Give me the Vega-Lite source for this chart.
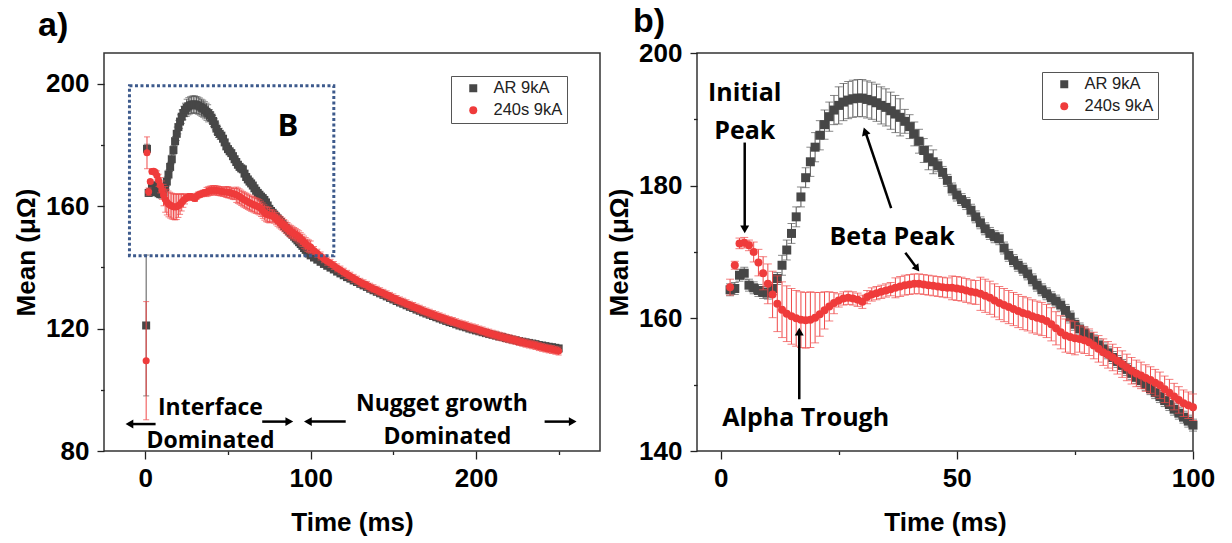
{
"$schema": "https://vega.github.io/schema/vega-lite/v6.json",
"background": "white",
"padding": {"left": 12, "top": 3, "right": 5, "bottom": 5},
"spacing": 4,
"resolve": {"scale": {"color": "independent", "shape": "independent"}},
"config": {
 "font": "Liberation Sans",
 "view": {"stroke": "#333", "strokeWidth": 1.5},
 "axis": {"grid": false, "domain": false, "labelFont": "Liberation Sans", "labelFontSize": 26, "labelFontWeight": "bold", "labelColor": "#000", "titleFont": "Liberation Sans", "titleFontSize": 26, "titleFontWeight": "bold", "titleColor": "#000", "tickColor": "#222", "tickWidth": 1.3, "labelFlush": false, "labelOverlap": false},
 "axisY": {"labelPadding": 8, "titlePadding": 6},
 "axisX": {"labelPadding": 6, "titlePadding": 18},
 "title": {"font": "Liberation Sans", "fontSize": 34, "fontWeight": "bold", "anchor": "start", "color": "#000", "frame": "group"},
 "legend": {"orient": "none", "strokeColor": "#555", "fillColor": "white", "padding": 4, "symbolOffset": 10, "labelOffset": 12, "labelFontSize": 16.5, "labelFont": "Liberation Sans", "labelColor": "#222", "symbolSize": 64, "rowPadding": 5, "cornerRadius": 0}
},
"datasets": {"d": [
{"s":"AR 9kA","t":0.5,"m":121,"e":23},{"s":"AR 9kA","t":1,"m":178.7,"e":1.5},
{"s":"AR 9kA","t":2,"m":164.3,"e":0.9},{"s":"AR 9kA","t":3,"m":164.5,"e":0.9},{"s":"AR 9kA","t":4,"m":166.5,"e":0.9},{"s":"AR 9kA","t":5,"m":166.8,"e":0.9},{"s":"AR 9kA","t":6,"m":165.0,"e":0.9},{"s":"AR 9kA","t":7,"m":164.6,"e":0.9},{"s":"AR 9kA","t":8,"m":164.2,"e":0.9},{"s":"AR 9kA","t":9,"m":163.9,"e":0.9},{"s":"AR 9kA","t":10,"m":163.8,"e":0.9},{"s":"AR 9kA","t":11,"m":164.5,"e":0.9},{"s":"AR 9kA","t":12,"m":166.0,"e":0.9},
{"s":"AR 9kA","t":13,"m":168.0,"e":1.5},{"s":"AR 9kA","t":14,"m":170.3,"e":1.5},{"s":"AR 9kA","t":15,"m":172.8,"e":1.5},{"s":"AR 9kA","t":16,"m":175.3,"e":1.5},{"s":"AR 9kA","t":17,"m":178.3,"e":1.5},{"s":"AR 9kA","t":18,"m":181.2,"e":1.5},
{"s":"AR 9kA","t":19,"m":183.6,"e":2.2},{"s":"AR 9kA","t":20,"m":185.8,"e":2.2},{"s":"AR 9kA","t":21,"m":187.6,"e":2.2},{"s":"AR 9kA","t":22,"m":189.2,"e":2.2},{"s":"AR 9kA","t":23,"m":190.4,"e":2.2},{"s":"AR 9kA","t":24,"m":191.4,"e":2.2},
{"s":"AR 9kA","t":25,"m":192.1,"e":2.8},{"s":"AR 9kA","t":26,"m":192.6,"e":2.8},{"s":"AR 9kA","t":27,"m":192.9,"e":2.8},{"s":"AR 9kA","t":28,"m":193.1,"e":2.8},{"s":"AR 9kA","t":29,"m":193.2,"e":2.8},{"s":"AR 9kA","t":30,"m":193.2,"e":2.8},{"s":"AR 9kA","t":31,"m":193.0,"e":2.8},{"s":"AR 9kA","t":32,"m":192.8,"e":2.8},{"s":"AR 9kA","t":33,"m":192.5,"e":2.8},{"s":"AR 9kA","t":34,"m":192.1,"e":2.8},{"s":"AR 9kA","t":35,"m":191.8,"e":2.8},{"s":"AR 9kA","t":36,"m":191.3,"e":2.8},{"s":"AR 9kA","t":37,"m":190.8,"e":2.8},{"s":"AR 9kA","t":38,"m":190.3,"e":2.8},
{"s":"AR 9kA","t":39,"m":189.7,"e":1.8},{"s":"AR 9kA","t":40,"m":188.9,"e":1.8},{"s":"AR 9kA","t":41,"m":187.8,"e":1.8},{"s":"AR 9kA","t":42,"m":186.7,"e":1.8},{"s":"AR 9kA","t":43,"m":185.3,"e":1.8},{"s":"AR 9kA","t":44,"m":184.2,"e":1.8},{"s":"AR 9kA","t":45,"m":183.6,"e":1.8},
{"s":"AR 9kA","t":46,"m":183.0,"e":0.9},{"s":"AR 9kA","t":47,"m":182.0,"e":0.9},{"s":"AR 9kA","t":48,"m":180.8,"e":0.9},{"s":"AR 9kA","t":49,"m":179.5,"e":0.9},{"s":"AR 9kA","t":50,"m":178.6,"e":0.9},{"s":"AR 9kA","t":51,"m":177.9,"e":0.9},{"s":"AR 9kA","t":52,"m":177.3,"e":0.9},{"s":"AR 9kA","t":53,"m":176.3,"e":0.9},{"s":"AR 9kA","t":54,"m":175.3,"e":0.9},{"s":"AR 9kA","t":55,"m":174.4,"e":0.9},{"s":"AR 9kA","t":56,"m":173.5,"e":0.9},{"s":"AR 9kA","t":57,"m":172.8,"e":0.9},{"s":"AR 9kA","t":58,"m":172.3,"e":0.9},{"s":"AR 9kA","t":59,"m":172.0,"e":0.9},{"s":"AR 9kA","t":60,"m":170.6,"e":0.9},
{"s":"AR 9kA","t":61,"m":169.5,"e":0.9},{"s":"AR 9kA","t":62,"m":168.7,"e":0.9},{"s":"AR 9kA","t":63,"m":168.0,"e":0.9},{"s":"AR 9kA","t":64,"m":167.4,"e":0.9},{"s":"AR 9kA","t":65,"m":166.7,"e":0.9},{"s":"AR 9kA","t":66,"m":165.8,"e":0.9},{"s":"AR 9kA","t":67,"m":165.0,"e":0.9},{"s":"AR 9kA","t":68,"m":164.3,"e":0.9},{"s":"AR 9kA","t":69,"m":163.7,"e":0.9},{"s":"AR 9kA","t":70,"m":163.1,"e":0.9},
{"s":"AR 9kA","t":71,"m":162.6,"e":0.9},{"s":"AR 9kA","t":72,"m":162.0,"e":0.9},{"s":"AR 9kA","t":73,"m":161.2,"e":0.9},{"s":"AR 9kA","t":74,"m":160.2,"e":0.9},{"s":"AR 9kA","t":75,"m":159.1,"e":0.9},{"s":"AR 9kA","t":76,"m":158.4,"e":0.9},{"s":"AR 9kA","t":77,"m":157.8,"e":0.9},{"s":"AR 9kA","t":78,"m":157.2,"e":0.9},{"s":"AR 9kA","t":79,"m":156.6,"e":0.9},{"s":"AR 9kA","t":80,"m":156.0,"e":0.9},
{"s":"AR 9kA","t":81,"m":155.4,"e":0.9},{"s":"AR 9kA","t":82,"m":154.8,"e":0.9},{"s":"AR 9kA","t":83,"m":154.1,"e":0.9},{"s":"AR 9kA","t":84,"m":153.5,"e":0.9},{"s":"AR 9kA","t":85,"m":152.9,"e":0.9},{"s":"AR 9kA","t":86,"m":152.3,"e":0.9},{"s":"AR 9kA","t":87,"m":151.7,"e":0.9},{"s":"AR 9kA","t":88,"m":151.1,"e":0.9},{"s":"AR 9kA","t":89,"m":150.6,"e":0.9},{"s":"AR 9kA","t":90,"m":150.0,"e":0.9},
{"s":"AR 9kA","t":91,"m":149.4,"e":0.9},{"s":"AR 9kA","t":92,"m":148.8,"e":0.9},{"s":"AR 9kA","t":93,"m":148.2,"e":0.9},{"s":"AR 9kA","t":94,"m":147.6,"e":0.9},{"s":"AR 9kA","t":95,"m":147.0,"e":0.9},{"s":"AR 9kA","t":96,"m":146.3,"e":0.9},{"s":"AR 9kA","t":97,"m":145.7,"e":0.9},{"s":"AR 9kA","t":98,"m":145.1,"e":0.9},{"s":"AR 9kA","t":99,"m":144.5,"e":0.9},{"s":"AR 9kA","t":100,"m":143.9,"e":0.9},
{"s":"AR 9kA","t":102,"m":143.2,"e":0.8},{"s":"AR 9kA","t":104,"m":142.5,"e":0.8},{"s":"AR 9kA","t":106,"m":141.8,"e":0.8},{"s":"AR 9kA","t":108,"m":141.1,"e":0.8},{"s":"AR 9kA","t":110,"m":140.5,"e":0.8},{"s":"AR 9kA","t":112,"m":139.9,"e":0.8},{"s":"AR 9kA","t":114,"m":139.3,"e":0.8},{"s":"AR 9kA","t":116,"m":138.6,"e":0.8},{"s":"AR 9kA","t":118,"m":138.0,"e":0.8},{"s":"AR 9kA","t":120,"m":137.4,"e":0.8},
{"s":"AR 9kA","t":122,"m":136.8,"e":0.8},{"s":"AR 9kA","t":124,"m":136.3,"e":0.8},{"s":"AR 9kA","t":126,"m":135.7,"e":0.8},{"s":"AR 9kA","t":128,"m":135.2,"e":0.8},{"s":"AR 9kA","t":130,"m":134.6,"e":0.8},{"s":"AR 9kA","t":132,"m":134.1,"e":0.8},{"s":"AR 9kA","t":134,"m":133.6,"e":0.8},{"s":"AR 9kA","t":136,"m":133.0,"e":0.8},{"s":"AR 9kA","t":138,"m":132.5,"e":0.8},{"s":"AR 9kA","t":140,"m":132.0,"e":0.8},
{"s":"AR 9kA","t":142,"m":131.5,"e":0.8},{"s":"AR 9kA","t":144,"m":131.0,"e":0.8},{"s":"AR 9kA","t":146,"m":130.5,"e":0.8},{"s":"AR 9kA","t":148,"m":130.0,"e":0.8},{"s":"AR 9kA","t":150,"m":129.5,"e":0.8},{"s":"AR 9kA","t":152,"m":129.0,"e":0.8},{"s":"AR 9kA","t":154,"m":128.5,"e":0.8},{"s":"AR 9kA","t":156,"m":128.1,"e":0.8},{"s":"AR 9kA","t":158,"m":127.6,"e":0.8},{"s":"AR 9kA","t":160,"m":127.1,"e":0.8},
{"s":"AR 9kA","t":162,"m":126.7,"e":0.8},{"s":"AR 9kA","t":164,"m":126.2,"e":0.8},{"s":"AR 9kA","t":166,"m":125.8,"e":0.8},{"s":"AR 9kA","t":168,"m":125.3,"e":0.8},{"s":"AR 9kA","t":170,"m":124.9,"e":0.8},{"s":"AR 9kA","t":172,"m":124.5,"e":0.8},{"s":"AR 9kA","t":174,"m":124.1,"e":0.8},{"s":"AR 9kA","t":176,"m":123.7,"e":0.8},{"s":"AR 9kA","t":178,"m":123.3,"e":0.8},{"s":"AR 9kA","t":180,"m":122.9,"e":0.8},
{"s":"AR 9kA","t":182,"m":122.5,"e":0.8},{"s":"AR 9kA","t":184,"m":122.1,"e":0.8},{"s":"AR 9kA","t":186,"m":121.8,"e":0.8},{"s":"AR 9kA","t":188,"m":121.4,"e":0.8},{"s":"AR 9kA","t":190,"m":121.0,"e":0.8},{"s":"AR 9kA","t":192,"m":120.7,"e":0.8},{"s":"AR 9kA","t":194,"m":120.4,"e":0.8},{"s":"AR 9kA","t":196,"m":120.0,"e":0.8},{"s":"AR 9kA","t":198,"m":119.7,"e":0.8},{"s":"AR 9kA","t":200,"m":119.4,"e":0.8},
{"s":"AR 9kA","t":202,"m":119.1,"e":0.8},{"s":"AR 9kA","t":204,"m":118.8,"e":0.8},{"s":"AR 9kA","t":206,"m":118.5,"e":0.8},{"s":"AR 9kA","t":208,"m":118.2,"e":0.8},{"s":"AR 9kA","t":210,"m":117.95,"e":0.8},{"s":"AR 9kA","t":212,"m":117.7,"e":0.8},{"s":"AR 9kA","t":214,"m":117.4,"e":0.8},{"s":"AR 9kA","t":216,"m":117.2,"e":0.8},{"s":"AR 9kA","t":218,"m":116.9,"e":0.8},{"s":"AR 9kA","t":220,"m":116.65,"e":0.8},
{"s":"AR 9kA","t":222,"m":116.4,"e":0.8},{"s":"AR 9kA","t":224,"m":116.2,"e":0.8},{"s":"AR 9kA","t":226,"m":115.9,"e":0.8},{"s":"AR 9kA","t":228,"m":115.7,"e":0.8},{"s":"AR 9kA","t":230,"m":115.5,"e":0.8},{"s":"AR 9kA","t":232,"m":115.3,"e":0.8},{"s":"AR 9kA","t":234,"m":115.1,"e":0.8},{"s":"AR 9kA","t":236,"m":114.9,"e":0.8},{"s":"AR 9kA","t":238,"m":114.6,"e":0.8},{"s":"AR 9kA","t":240,"m":114.45,"e":0.8},
{"s":"AR 9kA","t":242,"m":114.25,"e":0.8},{"s":"AR 9kA","t":244,"m":114.05,"e":0.8},{"s":"AR 9kA","t":246,"m":113.9,"e":0.8},{"s":"AR 9kA","t":248,"m":113.7,"e":0.8},{"s":"AR 9kA","t":250,"m":113.5,"e":0.8},
{"s":"240s 9kA","t":0.5,"m":109.5,"e":19.3},{"s":"240s 9kA","t":1,"m":177.4,"e":5.2},
{"s":"240s 9kA","t":2,"m":164.7,"e":1.2},{"s":"240s 9kA","t":3,"m":168.0,"e":0.6},{"s":"240s 9kA","t":4,"m":171.3,"e":0.8},{"s":"240s 9kA","t":5,"m":171.4,"e":0.8},{"s":"240s 9kA","t":6,"m":171.0,"e":0.8},{"s":"240s 9kA","t":7,"m":170.0,"e":1.5},{"s":"240s 9kA","t":8,"m":168.4,"e":2},{"s":"240s 9kA","t":9,"m":166.8,"e":2.5},{"s":"240s 9kA","t":10,"m":165.2,"e":3},
{"s":"240s 9kA","t":11,"m":163.6,"e":3.5},{"s":"240s 9kA","t":12,"m":162.2,"e":4.2},{"s":"240s 9kA","t":13,"m":161.3,"e":4.2},{"s":"240s 9kA","t":14,"m":160.7,"e":4.2},{"s":"240s 9kA","t":15,"m":160.3,"e":4.2},{"s":"240s 9kA","t":16,"m":160.0,"e":4.2},{"s":"240s 9kA","t":17,"m":159.8,"e":4.2},{"s":"240s 9kA","t":18,"m":159.7,"e":4.2},{"s":"240s 9kA","t":19,"m":159.8,"e":4.2},{"s":"240s 9kA","t":20,"m":160.1,"e":3.8},
{"s":"240s 9kA","t":21,"m":160.6,"e":3.3},{"s":"240s 9kA","t":22,"m":161.2,"e":2.8},{"s":"240s 9kA","t":23,"m":161.8,"e":2.2},{"s":"240s 9kA","t":24,"m":162.3,"e":1.6},{"s":"240s 9kA","t":25,"m":162.7,"e":1.0},{"s":"240s 9kA","t":26,"m":163.0,"e":1.0},{"s":"240s 9kA","t":27,"m":163.1,"e":1.0},{"s":"240s 9kA","t":28,"m":163.0,"e":1.0},{"s":"240s 9kA","t":29,"m":162.8,"e":1.0},{"s":"240s 9kA","t":30,"m":162.5,"e":1.0},
{"s":"240s 9kA","t":31,"m":163.2,"e":1.0},{"s":"240s 9kA","t":32,"m":163.6,"e":1.0},{"s":"240s 9kA","t":33,"m":163.8,"e":1.0},{"s":"240s 9kA","t":34,"m":164.0,"e":1.0},{"s":"240s 9kA","t":35,"m":164.2,"e":1.0},{"s":"240s 9kA","t":36,"m":164.4,"e":1.0},{"s":"240s 9kA","t":37,"m":164.6,"e":1.5},{"s":"240s 9kA","t":38,"m":164.8,"e":1.5},{"s":"240s 9kA","t":39,"m":165.0,"e":1.5},{"s":"240s 9kA","t":40,"m":165.1,"e":1.5},
{"s":"240s 9kA","t":41,"m":165.2,"e":1.5},{"s":"240s 9kA","t":42,"m":165.2,"e":1.5},{"s":"240s 9kA","t":43,"m":165.1,"e":1.5},{"s":"240s 9kA","t":44,"m":165.0,"e":1.5},{"s":"240s 9kA","t":45,"m":164.9,"e":1.5},{"s":"240s 9kA","t":46,"m":164.8,"e":1.5},{"s":"240s 9kA","t":47,"m":164.7,"e":1.5},{"s":"240s 9kA","t":48,"m":164.6,"e":1.5},{"s":"240s 9kA","t":49,"m":164.6,"e":1.8},{"s":"240s 9kA","t":50,"m":164.5,"e":1.8},
{"s":"240s 9kA","t":51,"m":164.4,"e":1.8},{"s":"240s 9kA","t":52,"m":164.2,"e":1.8},{"s":"240s 9kA","t":53,"m":164.0,"e":1.8},{"s":"240s 9kA","t":54,"m":163.9,"e":1.8},{"s":"240s 9kA","t":55,"m":163.7,"e":2.5},{"s":"240s 9kA","t":56,"m":163.4,"e":2.5},{"s":"240s 9kA","t":57,"m":163.1,"e":2.5},{"s":"240s 9kA","t":58,"m":162.7,"e":2.5},{"s":"240s 9kA","t":59,"m":162.3,"e":2.5},{"s":"240s 9kA","t":60,"m":162.0,"e":2.5},
{"s":"240s 9kA","t":61,"m":161.7,"e":2.5},{"s":"240s 9kA","t":62,"m":161.4,"e":2.5},{"s":"240s 9kA","t":63,"m":161.1,"e":2.5},{"s":"240s 9kA","t":64,"m":160.8,"e":2.5},{"s":"240s 9kA","t":65,"m":160.6,"e":2.5},{"s":"240s 9kA","t":66,"m":160.3,"e":2.5},{"s":"240s 9kA","t":67,"m":160.1,"e":2.5},{"s":"240s 9kA","t":68,"m":159.9,"e":2.5},{"s":"240s 9kA","t":69,"m":159.6,"e":2.5},{"s":"240s 9kA","t":70,"m":159.1,"e":2.5},
{"s":"240s 9kA","t":71,"m":158.5,"e":2.5},{"s":"240s 9kA","t":72,"m":157.9,"e":2.5},{"s":"240s 9kA","t":73,"m":157.4,"e":2.5},{"s":"240s 9kA","t":74,"m":157.2,"e":2.5},{"s":"240s 9kA","t":75,"m":157.0,"e":2.5},{"s":"240s 9kA","t":76,"m":156.9,"e":2.0},{"s":"240s 9kA","t":77,"m":156.7,"e":2.0},{"s":"240s 9kA","t":78,"m":156.4,"e":2.0},{"s":"240s 9kA","t":79,"m":155.9,"e":2.0},{"s":"240s 9kA","t":80,"m":155.4,"e":2.0},
{"s":"240s 9kA","t":81,"m":154.9,"e":2.0},{"s":"240s 9kA","t":82,"m":154.5,"e":2.0},{"s":"240s 9kA","t":83,"m":154.1,"e":2.0},{"s":"240s 9kA","t":84,"m":153.6,"e":2.0},{"s":"240s 9kA","t":85,"m":153.1,"e":2.0},{"s":"240s 9kA","t":86,"m":152.6,"e":2.0},{"s":"240s 9kA","t":87,"m":152.1,"e":2.0},{"s":"240s 9kA","t":88,"m":151.7,"e":2.0},{"s":"240s 9kA","t":89,"m":151.4,"e":2.0},{"s":"240s 9kA","t":90,"m":151.0,"e":2.0},
{"s":"240s 9kA","t":91,"m":150.7,"e":2.0},{"s":"240s 9kA","t":92,"m":150.3,"e":2.0},{"s":"240s 9kA","t":93,"m":149.9,"e":2.0},{"s":"240s 9kA","t":94,"m":149.3,"e":2.0},{"s":"240s 9kA","t":95,"m":148.8,"e":2.0},{"s":"240s 9kA","t":96,"m":148.2,"e":2.0},{"s":"240s 9kA","t":97,"m":147.7,"e":2.0},{"s":"240s 9kA","t":98,"m":147.2,"e":2.0},{"s":"240s 9kA","t":99,"m":146.9,"e":2.0},{"s":"240s 9kA","t":100,"m":146.6,"e":2.0},
{"s":"240s 9kA","t":102,"m":145.5,"e":1.3},{"s":"240s 9kA","t":104,"m":144.6,"e":1.3},{"s":"240s 9kA","t":106,"m":143.7,"e":1.3},{"s":"240s 9kA","t":108,"m":142.8,"e":1.3},{"s":"240s 9kA","t":110,"m":142.0,"e":1.3},{"s":"240s 9kA","t":112,"m":141.3,"e":1.3},{"s":"240s 9kA","t":114,"m":140.6,"e":1.3},{"s":"240s 9kA","t":116,"m":139.8,"e":1.3},{"s":"240s 9kA","t":118,"m":139.1,"e":1.3},{"s":"240s 9kA","t":120,"m":138.4,"e":1.3},
{"s":"240s 9kA","t":122,"m":137.7,"e":1.3},{"s":"240s 9kA","t":124,"m":137.1,"e":1.3},{"s":"240s 9kA","t":126,"m":136.4,"e":1.3},{"s":"240s 9kA","t":128,"m":135.8,"e":1.3},{"s":"240s 9kA","t":130,"m":135.1,"e":1.3},{"s":"240s 9kA","t":132,"m":134.6,"e":1.3},{"s":"240s 9kA","t":134,"m":134.1,"e":1.3},{"s":"240s 9kA","t":136,"m":133.5,"e":1.3},{"s":"240s 9kA","t":138,"m":133.0,"e":1.3},{"s":"240s 9kA","t":140,"m":132.5,"e":1.3},
{"s":"240s 9kA","t":142,"m":132.0,"e":1.3},{"s":"240s 9kA","t":144,"m":131.5,"e":1.3},{"s":"240s 9kA","t":146,"m":131.0,"e":1.3},{"s":"240s 9kA","t":148,"m":130.5,"e":1.3},{"s":"240s 9kA","t":150,"m":130.0,"e":1.3},{"s":"240s 9kA","t":152,"m":129.5,"e":1.3},{"s":"240s 9kA","t":154,"m":129.0,"e":1.3},{"s":"240s 9kA","t":156,"m":128.6,"e":1.3},{"s":"240s 9kA","t":158,"m":128.1,"e":1.3},{"s":"240s 9kA","t":160,"m":127.6,"e":1.3},
{"s":"240s 9kA","t":162,"m":127.2,"e":1.3},{"s":"240s 9kA","t":164,"m":126.7,"e":1.3},{"s":"240s 9kA","t":166,"m":126.3,"e":1.3},{"s":"240s 9kA","t":168,"m":125.8,"e":1.3},{"s":"240s 9kA","t":170,"m":125.4,"e":1.3},{"s":"240s 9kA","t":172,"m":125.0,"e":1.3},{"s":"240s 9kA","t":174,"m":124.6,"e":1.3},{"s":"240s 9kA","t":176,"m":124.2,"e":1.3},{"s":"240s 9kA","t":178,"m":123.8,"e":1.3},{"s":"240s 9kA","t":180,"m":123.4,"e":1.3},
{"s":"240s 9kA","t":182,"m":123.0,"e":1.3},{"s":"240s 9kA","t":184,"m":122.6,"e":1.3},{"s":"240s 9kA","t":186,"m":122.3,"e":1.3},{"s":"240s 9kA","t":188,"m":121.9,"e":1.3},{"s":"240s 9kA","t":190,"m":121.5,"e":1.3},{"s":"240s 9kA","t":192,"m":121.2,"e":1.3},{"s":"240s 9kA","t":194,"m":120.9,"e":1.3},{"s":"240s 9kA","t":196,"m":120.5,"e":1.3},{"s":"240s 9kA","t":198,"m":120.2,"e":1.3},{"s":"240s 9kA","t":200,"m":119.9,"e":1.3},
{"s":"240s 9kA","t":202,"m":119.5,"e":1.3},{"s":"240s 9kA","t":204,"m":119.2,"e":1.3},{"s":"240s 9kA","t":206,"m":118.8,"e":1.3},{"s":"240s 9kA","t":208,"m":118.5,"e":1.3},{"s":"240s 9kA","t":210,"m":118.15,"e":1.3},{"s":"240s 9kA","t":212,"m":117.85,"e":1.3},{"s":"240s 9kA","t":214,"m":117.5,"e":1.3},{"s":"240s 9kA","t":216,"m":117.25,"e":1.3},{"s":"240s 9kA","t":218,"m":116.9,"e":1.3},{"s":"240s 9kA","t":220,"m":116.65,"e":1.3},
{"s":"240s 9kA","t":222,"m":116.35,"e":1.3},{"s":"240s 9kA","t":224,"m":116.1,"e":1.3},{"s":"240s 9kA","t":226,"m":115.75,"e":1.3},{"s":"240s 9kA","t":228,"m":115.5,"e":1.3},{"s":"240s 9kA","t":230,"m":115.2,"e":1.3},{"s":"240s 9kA","t":232,"m":114.95,"e":1.3},{"s":"240s 9kA","t":234,"m":114.7,"e":1.3},{"s":"240s 9kA","t":236,"m":114.45,"e":1.3},{"s":"240s 9kA","t":238,"m":114.1,"e":1.3},{"s":"240s 9kA","t":240,"m":113.85,"e":1.3},
{"s":"240s 9kA","t":242,"m":113.6,"e":1.3},{"s":"240s 9kA","t":244,"m":113.35,"e":1.3},{"s":"240s 9kA","t":246,"m":113.15,"e":1.3},{"s":"240s 9kA","t":248,"m":112.9,"e":1.3},{"s":"240s 9kA","t":250,"m":112.65,"e":1.3}
]},
"hconcat": [
{
 "width": 496, "height": 398,
 "title": {"text": "a)", "dx": -66, "offset": -16.5, "baseline": "alphabetic"},
 "data": {"name": "d"},
 "encoding": {
  "x": {"field": "t", "type": "quantitative", "scale": {"domain": [-25, 275], "nice": false, "zero": false}, "axis": {"title": "Time (ms)", "values": [0, 50, 100, 150, 200, 250], "labelExpr": "datum.value % 100 === 0 ? datum.label : ''", "tickSize": {"condition": {"test": "datum.value % 100 === 0", "value": 8}, "value": 3.5}}},
  "y": {"field": "m", "type": "quantitative", "scale": {"domain": [80, 210], "nice": false, "zero": false}, "axis": {"title": "Mean (μΩ)", "values": [80, 100, 120, 140, 160, 180, 200], "labelExpr": "datum.value % 40 === 0 ? datum.label : ''", "tickSize": {"condition": {"test": "datum.value % 40 === 0", "value": 7}, "value": 3.5}}}
 },
 "layer": [
  {"transform": [{"filter": "datum.s === 'AR 9kA'"}], "mark": {"type": "errorbar", "ticks": true, "size": 6, "thickness": 1, "color": "#555555"}, "encoding": {"yError": {"field": "e"}}},
  {"transform": [{"filter": "datum.s === 'AR 9kA'"}], "mark": {"type": "point", "filled": true, "opacity": 1, "size": 64},
   "encoding": {
    "color": {"field": "s", "type": "nominal", "scale": {"domain": ["AR 9kA", "240s 9kA"], "range": ["#474747", "#ef3b3b"]}, "legend": {"title": null, "legendX": 347, "legendY": 23}},
    "shape": {"field": "s", "type": "nominal", "scale": {"domain": ["AR 9kA", "240s 9kA"], "range": ["square", "circle"]}, "legend": {"title": null, "legendX": 347, "legendY": 23}}}},
  {"transform": [{"filter": "datum.s === '240s 9kA'"}], "mark": {"type": "errorbar", "ticks": true, "size": 6, "thickness": 1, "color": "#f04848"}, "encoding": {"yError": {"field": "e"}}},
  {"transform": [{"filter": "datum.s === '240s 9kA'"}], "mark": {"type": "point", "filled": true, "opacity": 1, "size": 50},
   "encoding": {
    "color": {"field": "s", "type": "nominal", "scale": {"domain": ["AR 9kA", "240s 9kA"], "range": ["#474747", "#ef3b3b"]}, "legend": {"title": null, "legendX": 347, "legendY": 23}},
    "shape": {"field": "s", "type": "nominal", "scale": {"domain": ["AR 9kA", "240s 9kA"], "range": ["square", "circle"]}, "legend": {"title": null, "legendX": 347, "legendY": 23}}}},
  {"data": {"values": [{"t": -9.6, "t2": 114, "m": 143.8, "m2": 199.3}]}, "mark": {"type": "rect", "fillOpacity": 0, "stroke": "#3d5a8c", "strokeWidth": 3, "strokeDash": [3, 2.5]}, "encoding": {"x2": {"field": "t2"}, "y2": {"field": "m2"}}},
  {"data": {"values": [{"t": 86.2, "m": 185.8, "label": "B"}]}, "mark": {"type": "text", "font": "Open Sans", "fontWeight": "bold", "fontSize": 31, "color": "#000"}, "encoding": {"text": {"field": "label"}}},
  {"data": {"values": [{"t": 39.4, "m": 94.2, "label": "Interface"}, {"t": 39.4, "m": 83.4, "label": "Dominated"}, {"t": 179.4, "m": 95.3, "label": "Nugget growth"}, {"t": 182.7, "m": 84.5, "label": "Dominated"}]}, "mark": {"type": "text", "font": "Open Sans", "fontWeight": "bold", "fontSize": 23, "color": "#000"}, "encoding": {"text": {"field": "label"}}},
  {"data": {"values": [{"t": -9.6, "t2": 6.2, "m": 88.8, "m2": 88.8}, {"t": 70.7, "t2": 87, "m": 89.6, "m2": 89.6}, {"t": 98.4, "t2": 121.2, "m": 89.6, "m2": 89.6}, {"t": 241.5, "t2": 258.5, "m": 89.6, "m2": 89.6}]}, "mark": {"type": "rule", "strokeWidth": 2.5, "color": "#000"}, "encoding": {"x2": {"field": "t2"}, "y2": {"field": "m2"}}},
  {"data": {"values": [{"t": -9.6, "m": 88.8}, {"t": 98.3, "m": 89.6}]}, "mark": {"type": "point", "shape": "triangle-left", "filled": true, "opacity": 1, "color": "#000", "size": 80}},
  {"data": {"values": [{"t": 87.1, "m": 89.6}, {"t": 258.5, "m": 89.6}]}, "mark": {"type": "point", "shape": "triangle-right", "filled": true, "opacity": 1, "color": "#000", "size": 80}}
 ]
},
{
 "width": 496, "height": 398,
 "title": {"text": "b)", "dx": -64, "offset": -25.5, "baseline": "alphabetic"},
 "data": {"name": "d"},
 "encoding": {
  "x": {"field": "t", "type": "quantitative", "scale": {"domain": [-5, 100], "nice": false, "zero": false}, "axis": {"title": "Time (ms)", "values": [0, 25, 50, 75, 100], "labelExpr": "datum.value % 50 === 0 ? datum.label : ''", "tickSize": {"condition": {"test": "datum.value % 50 === 0", "value": 8}, "value": 3.5}}},
  "y": {"field": "m", "type": "quantitative", "scale": {"domain": [140, 200], "nice": false, "zero": false}, "axis": {"title": "Mean (μΩ)", "values": [140, 150, 160, 170, 180, 190, 200], "labelExpr": "datum.value % 20 === 0 ? datum.label : ''", "tickSize": {"condition": {"test": "datum.value % 20 === 0", "value": 7}, "value": 3.5}}}
 },
 "layer": [
  {"transform": [{"filter": "datum.s === 'AR 9kA' && datum.t >= 2 && datum.t <= 100"}], "mark": {"type": "errorbar", "ticks": true, "size": 8, "thickness": 1, "color": "#555555"}, "encoding": {"yError": {"field": "e"}}},
  {"transform": [{"filter": "datum.s === 'AR 9kA' && datum.t >= 2 && datum.t <= 100"}], "mark": {"type": "point", "filled": true, "opacity": 1, "size": 81},
   "encoding": {
    "color": {"field": "s", "type": "nominal", "scale": {"domain": ["AR 9kA", "240s 9kA"], "range": ["#474747", "#ef3b3b"]}, "legend": {"title": null, "legendX": 345, "legendY": 19}},
    "shape": {"field": "s", "type": "nominal", "scale": {"domain": ["AR 9kA", "240s 9kA"], "range": ["square", "circle"]}, "legend": {"title": null, "legendX": 345, "legendY": 19}}}},
  {"transform": [{"filter": "datum.s === '240s 9kA' && datum.t >= 2 && datum.t <= 100"}], "mark": {"type": "errorbar", "ticks": true, "size": 8, "thickness": 1, "color": "#f04848"}, "encoding": {"yError": {"field": "e"}}},
  {"transform": [{"filter": "datum.s === '240s 9kA' && datum.t >= 2 && datum.t <= 100"}], "mark": {"type": "point", "filled": true, "opacity": 1, "size": 64},
   "encoding": {
    "color": {"field": "s", "type": "nominal", "scale": {"domain": ["AR 9kA", "240s 9kA"], "range": ["#474747", "#ef3b3b"]}, "legend": {"title": null, "legendX": 345, "legendY": 19}},
    "shape": {"field": "s", "type": "nominal", "scale": {"domain": ["AR 9kA", "240s 9kA"], "range": ["square", "circle"]}, "legend": {"title": null, "legendX": 345, "legendY": 19}}}},
  {"data": {"values": [{"t": 5.1, "m": 193.9, "label": "Initial"}, {"t": 5.1, "m": 188.3, "label": "Peak"}, {"t": 36.3, "m": 172.2, "label": "Beta Peak"}, {"t": 18, "m": 145, "label": "Alpha Trough"}]}, "mark": {"type": "text", "font": "Open Sans", "fontWeight": "bold", "fontSize": 25, "color": "#000"}, "encoding": {"text": {"field": "label"}}},
  {"data": {"values": [{"t": 5.1, "t2": 5.1, "m": 186.5, "m2": 173.3}, {"t": 16.65, "t2": 16.65, "m": 147.8, "m2": 158.1}, {"t": 36.1, "t2": 30.6, "m": 176.6, "m2": 188.2}, {"t": 39.1, "t2": 41.6, "m": 169.9, "m2": 167.5}]}, "mark": {"type": "rule", "strokeWidth": 2.5, "color": "#000"}, "encoding": {"x2": {"field": "t2"}, "y2": {"field": "m2"}}},
  {"data": {"values": [{"t": 5.1, "m": 173.4}]}, "mark": {"type": "point", "shape": "triangle-down", "filled": true, "opacity": 1, "color": "#000", "size": 80}},
  {"data": {"values": [{"t": 16.65, "m": 158.0}]}, "mark": {"type": "point", "shape": "triangle-up", "filled": true, "opacity": 1, "color": "#000", "size": 80}},
  {"data": {"values": [{"t": 30.57, "m": 188.2}]}, "mark": {"type": "point", "shape": "triangle-up", "angle": 341, "filled": true, "opacity": 1, "color": "#000", "size": 80}},
  {"data": {"values": [{"t": 41.6, "m": 167.5}]}, "mark": {"type": "point", "shape": "triangle-down", "angle": 323.5, "filled": true, "opacity": 1, "color": "#000", "size": 70}}
 ]
}
]
}
